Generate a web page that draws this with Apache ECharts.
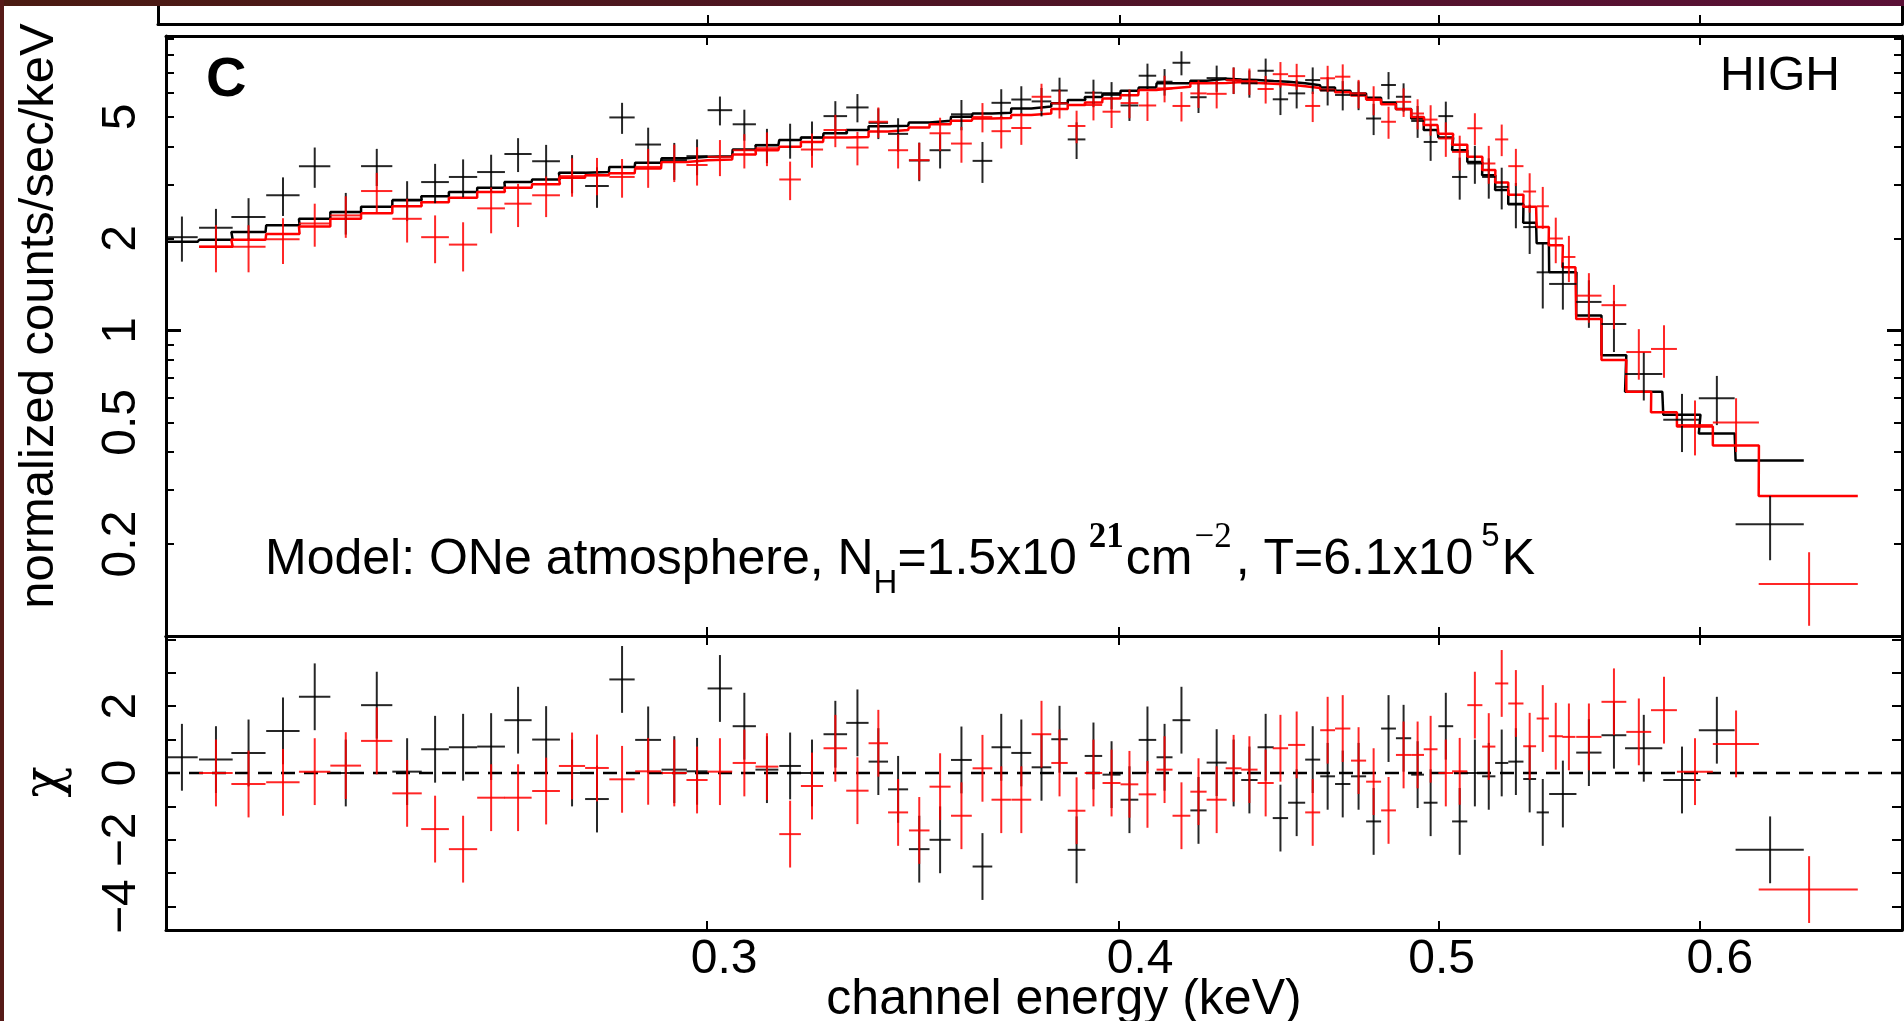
<!DOCTYPE html>
<html>
<head>
<meta charset="utf-8">
<title>ONe atmosphere fit - HIGH</title>
<script src="https://cdn.jsdelivr.net/npm/echarts@6/dist/echarts.min.js"></script>
<style>
  html, body { margin: 0; padding: 0; background: #fff; }
  #chart { width: 1904px; height: 1021px; }
</style>
</head>
<body>
<div id="chart"></div>
<script>
// ---- data (keV, counts/sec/keV, chi) ----
const blackEnergy = [0.2079, 0.2129, 0.2178, 0.2231, 0.2281, 0.2331, 0.2382, 0.2433, 0.2481, 0.2530,
  0.2580, 0.2629, 0.2681, 0.2730, 0.2778, 0.2827, 0.2879, 0.2932, 0.2979, 0.3027,
  0.3079, 0.3128, 0.3179, 0.3228, 0.3281, 0.3332, 0.3381, 0.3428, 0.3479, 0.3530,
  0.3583, 0.3636, 0.3684, 0.3736, 0.3789, 0.3837, 0.3883, 0.3929, 0.3979, 0.4029,
  0.4080, 0.4129, 0.4178, 0.4228, 0.4282, 0.4333, 0.4381, 0.4431, 0.4477, 0.4528,
  0.4579, 0.4627, 0.4676, 0.4728, 0.4778, 0.4828, 0.4879, 0.4927, 0.4972, 0.5025,
  0.5074, 0.5128, 0.5178, 0.5225, 0.5277, 0.5328, 0.5377, 0.5453, 0.5553, 0.5651,
  0.5770, 0.5926, 0.6072, 0.6302];
const blackEnergyErr = [0.0023, 0.0025, 0.0026, 0.0026, 0.0025, 0.0025, 0.0026, 0.0025, 0.0024, 0.0025,
  0.0025, 0.0025, 0.0026, 0.0025, 0.0023, 0.0025, 0.0026, 0.0026, 0.0022, 0.0026,
  0.0025, 0.0025, 0.0024, 0.0025, 0.0027, 0.0026, 0.0023, 0.0024, 0.0025, 0.0026,
  0.0026, 0.0025, 0.0025, 0.0026, 0.0026, 0.0022, 0.0024, 0.0024, 0.0025, 0.0025,
  0.0025, 0.0023, 0.0026, 0.0024, 0.0030, 0.0024, 0.0025, 0.0025, 0.0024, 0.0027,
  0.0024, 0.0024, 0.0025, 0.0025, 0.0025, 0.0025, 0.0026, 0.0022, 0.0024, 0.0026,
  0.0027, 0.0027, 0.0024, 0.0024, 0.0028, 0.0024, 0.0023, 0.0052, 0.0049, 0.0049,
  0.0075, 0.0077, 0.0076, 0.0150];
const blackCounts = [2.02, 2.17, 2.35, 2.77, 3.45, 2.44, 3.45, 2.68, 3.06, 3.18,
  3.30, 3.78, 3.58, 3.28, 2.97, 4.98, 4.06, 3.61, 3.72, 5.26,
  4.73, 4.05, 4.20, 4.28, 5.03, 5.37, 4.78, 4.40, 3.60, 3.89,
  5.10, 3.59, 5.56, 5.70, 5.62, 6.10, 4.22, 6.00, 5.90, 5.45,
  6.82, 6.52, 7.52, 5.80, 6.70, 6.60, 6.44, 7.08, 5.71, 5.97,
  6.60, 6.10, 5.90, 5.90, 4.94, 6.36, 5.82, 4.85, 4.14, 5.03,
  3.18, 3.52, 3.18, 2.95, 2.60, 2.18, 1.55, 1.42, 1.24, 1.05,
  0.72, 0.51, 0.60, 0.232];
const blackCountsErr = [0.34, 0.33, 0.36, 0.40, 0.52, 0.38, 0.48, 0.40, 0.45, 0.45,
  0.46, 0.48, 0.47, 0.47, 0.45, 0.58, 0.55, 0.50, 0.50, 0.57,
  0.55, 0.52, 0.55, 0.55, 0.60, 0.57, 0.55, 0.55, 0.52, 0.50,
  0.58, 0.55, 0.60, 0.60, 0.60, 0.62, 0.58, 0.62, 0.60, 0.60,
  0.65, 0.65, 0.68, 0.65, 0.66, 0.66, 0.66, 0.68, 0.64, 0.64,
  0.66, 0.65, 0.65, 0.64, 0.58, 0.65, 0.62, 0.58, 0.55, 0.58,
  0.50, 0.50, 0.48, 0.46, 0.44, 0.40, 0.37, 0.25, 0.22, 0.20,
  0.13, 0.11, 0.11, 0.055];
const blackModel = [1.95, 1.98, 2.10, 2.21, 2.32, 2.44, 2.54, 2.67, 2.75, 2.84,
  2.93, 3.06, 3.12, 3.28, 3.30, 3.43, 3.54, 3.66, 3.70, 3.72,
  3.91, 4.04, 4.20, 4.28, 4.42, 4.53, 4.66, 4.68, 4.79, 4.86,
  5.01, 5.13, 5.16, 5.33, 5.41, 5.54, 5.68, 5.81, 5.96, 6.09,
  6.24, 6.44, 6.44, 6.57, 6.66, 6.63, 6.60, 6.55, 6.52, 6.44,
  6.35, 6.24, 6.09, 5.96, 5.78, 5.57, 5.31, 4.94, 4.53, 4.28,
  3.89, 3.56, 3.22, 2.88, 2.59, 2.25, 1.93, 1.55, 1.12, 0.83,
  0.63, 0.53, 0.46, 0.375];
const blackChi = [0.47, 0.40, 0.60, 1.26, 2.28, 0.00, 2.03, 0.04, 0.71, 0.77,
  0.79, 1.58, 1.00, 0.00, -0.78, 2.80, 0.99, 0.10, 0.05, 2.53,
  1.40, 0.10, 0.21, 0.00, 1.16, 1.50, 0.34, -0.49, -2.28, -2.00,
  0.39, -2.80, 0.77, 0.60, 0.17, 1.01, -2.30, 0.51, -0.05, -0.80,
  0.99, 0.47, 1.58, -1.12, 0.31, 0.00, -0.21, 0.77, -1.35, -0.89,
  0.40, -0.10, -0.33, -0.10, -1.45, 1.33, 1.04, -0.05, -0.89, 1.40,
  -1.45, 0.00, -0.10, 0.30, 0.34, -0.18, -1.18, -0.63, 0.61, 1.13,
  0.74, -0.21, 1.28, -2.30];

const redEnergy = [0.2129, 0.2178, 0.2231, 0.2281, 0.2331, 0.2382, 0.2433, 0.2481, 0.2530, 0.2580,
  0.2629, 0.2681, 0.2730, 0.2778, 0.2827, 0.2879, 0.2932, 0.2979, 0.3027, 0.3079,
  0.3128, 0.3179, 0.3228, 0.3281, 0.3332, 0.3381, 0.3428, 0.3479, 0.3530, 0.3583,
  0.3636, 0.3684, 0.3736, 0.3789, 0.3837, 0.3883, 0.3929, 0.3979, 0.4029, 0.4080,
  0.4129, 0.4178, 0.4228, 0.4282, 0.4333, 0.4381, 0.4431, 0.4477, 0.4528, 0.4579,
  0.4627, 0.4676, 0.4728, 0.4778, 0.4828, 0.4879, 0.4927, 0.4972, 0.5025, 0.5074,
  0.5128, 0.5178, 0.5225, 0.5277, 0.5328, 0.5377, 0.5426, 0.5476, 0.5553, 0.5651,
  0.5750, 0.5852, 0.5980, 0.6154, 0.6476];
const redEnergyErr = [0.0025, 0.0026, 0.0026, 0.0025, 0.0025, 0.0026, 0.0025, 0.0024, 0.0025, 0.0025,
  0.0025, 0.0026, 0.0025, 0.0023, 0.0025, 0.0026, 0.0026, 0.0022, 0.0026, 0.0025,
  0.0025, 0.0024, 0.0025, 0.0027, 0.0026, 0.0023, 0.0024, 0.0025, 0.0026, 0.0026,
  0.0025, 0.0025, 0.0026, 0.0026, 0.0022, 0.0024, 0.0024, 0.0025, 0.0025, 0.0025,
  0.0023, 0.0026, 0.0024, 0.0030, 0.0024, 0.0025, 0.0025, 0.0024, 0.0027, 0.0024,
  0.0024, 0.0025, 0.0025, 0.0025, 0.0025, 0.0026, 0.0022, 0.0024, 0.0026, 0.0027,
  0.0027, 0.0024, 0.0024, 0.0028, 0.0024, 0.0023, 0.0027, 0.0025, 0.0049, 0.0049,
  0.0050, 0.0053, 0.0075, 0.0099, 0.0224];
const redCounts = [1.88, 1.88, 1.99, 2.24, 2.38, 2.86, 2.32, 2.02, 1.91, 2.51,
  2.60, 2.77, 3.20, 3.22, 3.18, 3.43, 3.56, 3.48, 3.70, 3.89,
  3.95, 3.12, 3.91, 4.53, 3.97, 4.82, 3.89, 3.61, 4.42, 4.09,
  5.00, 4.49, 4.60, 5.82, 5.54, 4.67, 5.47, 5.20, 5.55, 5.45,
  6.20, 5.43, 5.97, 5.95, 6.60, 6.55, 6.17, 6.90, 6.80, 5.43,
  6.69, 6.77, 5.97, 5.68, 4.82, 5.60, 5.13, 4.90, 4.25, 3.84,
  4.59, 3.52, 4.22, 3.45, 2.85, 2.55, 2.00, 1.74, 1.30, 1.21,
  0.85, 0.87, 0.49, 0.50, 0.148];
const redCountsErr = [0.33, 0.33, 0.34, 0.36, 0.37, 0.42, 0.38, 0.36, 0.35, 0.43,
  0.42, 0.42, 0.46, 0.45, 0.46, 0.50, 0.50, 0.50, 0.50, 0.50,
  0.50, 0.45, 0.50, 0.55, 0.50, 0.55, 0.50, 0.50, 0.55, 0.55,
  0.55, 0.55, 0.55, 0.60, 0.60, 0.57, 0.60, 0.60, 0.60, 0.60,
  0.62, 0.60, 0.62, 0.62, 0.65, 0.65, 0.64, 0.66, 0.66, 0.62,
  0.66, 0.66, 0.64, 0.62, 0.58, 0.60, 0.58, 0.56, 0.55, 0.50,
  0.55, 0.50, 0.50, 0.48, 0.42, 0.40, 0.34, 0.30, 0.24, 0.20,
  0.16, 0.17, 0.10, 0.10, 0.04];
const redModel = [1.88, 1.98, 2.07, 2.19, 2.32, 2.42, 2.55, 2.63, 2.72, 2.84,
  2.93, 3.01, 3.16, 3.22, 3.27, 3.39, 3.56, 3.61, 3.63, 3.77,
  3.89, 3.99, 4.14, 4.28, 4.30, 4.48, 4.53, 4.62, 4.73, 4.86,
  4.94, 4.96, 5.07, 5.13, 5.31, 5.47, 5.57, 5.74, 5.89, 6.12,
  6.20, 6.28, 6.44, 6.46, 6.50, 6.45, 6.42, 6.38, 6.30, 6.22,
  6.12, 6.02, 5.88, 5.70, 5.50, 5.30, 5.00, 4.70, 4.40, 4.05,
  3.70, 3.35, 3.05, 2.78, 2.54, 2.18, 1.90, 1.61, 1.09, 0.80,
  0.63, 0.54, 0.485, 0.42, 0.287];
const redChi = [0.00, -0.33, -0.28, 0.04, 0.22, 0.96, -0.61, -1.68, -2.28, -0.74,
  -0.74, -0.54, 0.21, 0.15, -0.19, 0.05, 0.00, -0.21, 0.04, 0.30,
  0.19, -1.83, -0.39, 0.74, -0.53, 0.89, -1.18, -1.72, -0.41, -1.28,
  0.14, -0.80, -0.80, 1.16, 0.30, -1.13, 0.00, -0.30, -0.34, -0.64,
  0.10, -1.28, -0.56, -0.80, 0.14, 0.10, -0.30, 0.74, 0.84, -1.18,
  1.28, 1.33, 0.37, -0.26, -1.12, 0.54, 0.54, 0.71, 0.00, 0.05,
  2.03, 0.79, 2.68, 2.08, 0.80, 1.63, 1.10, 1.08, 1.08, 2.13,
  1.23, 1.88, 0.04, 0.87, -3.49];
const chiErr = 1;

const energyTicks = [0.3, 0.4, 0.5, 0.6];
const countTicks = [0.2, 0.3, 0.4, 0.5, 0.6, 0.7, 0.8, 0.9, 2, 3, 4, 5, 6, 7, 8, 9];
const countMajorTicks = [0.1, 1];
const countLabels = [0.2, 0.5, 1, 2, 5];
const chiTicks = [-4, -3, -2, -1, 0, 1, 2, 3, 4];
const chiLabels = [-4, -2, 0, 2];

// axis ranges
const E_MIN = 0.2056, E_MAX = 0.691, E_MIN_UPPER = 0.2044;
const COUNT_MIN = 0.1, COUNT_MAX = 9.2;
const CHI_MIN = -4.7, CHI_MAX = 4.1;

const FONT = '"Liberation Sans", Arial, Helvetica, sans-serif';
const RED = '#ff0000';

const chart = echarts.init(document.getElementById('chart'), null, { renderer: 'canvas' });

// step outline of a binned model
function steps(energy, width, model) {
  const pts = [];
  energy.forEach((e, i) => {
    pts.push([e - width[i], model[i]], [e + width[i], model[i]]);
  });
  return pts;
}

// data cross: horizontal bar = channel width, vertical bar = error
function crossItem(color, lineWidth, fixedErr) {
  return function (params, api) {
    const x = api.value(0), y = api.value(1), dx = api.value(2);
    const dy = fixedErr != null ? fixedErr : api.value(3);
    const l = api.coord([x - dx, y]);
    const r = api.coord([x + dx, y]);
    const t = api.coord([x, y + dy]);
    const b = api.coord([x, y - dy]);
    return {
      type: 'group',
      children: [
        { type: 'line', shape: { x1: l[0], y1: l[1], x2: r[0], y2: r[1] }, style: { stroke: color, lineWidth: lineWidth } },
        { type: 'line', shape: { x1: t[0], y1: t[1], x2: b[0], y2: b[1] }, style: { stroke: color, lineWidth: lineWidth } }
      ]
    };
  };
}

// the printed tick labels sit a little right of their ticks
const energyLabelStyle = {
  e3: { fontSize: 48, fontFamily: FONT, color: '#000', padding: [0, 0, 0, 34] },
  e4: { fontSize: 48, fontFamily: FONT, color: '#000', padding: [0, 0, 0, 42] },
  e5: { fontSize: 48, fontFamily: FONT, color: '#000', padding: [0, 0, 0, 6] },
  e6: { fontSize: 48, fontFamily: FONT, color: '#000', padding: [0, 0, 0, 40] }
};

function energyAxis(gridIndex, position, min, showLabels) {
  return {
    type: 'log', logBase: 10, gridIndex: gridIndex, position: position, min: min, max: E_MAX,
    axisLine: { show: true, onZero: false, lineStyle: { color: '#000', width: 3 } },
    axisTick: { show: true, inside: true, length: 9, customValues: energyTicks, lineStyle: { color: '#000', width: 2 } },
    axisLabel: showLabels ? {
      show: true, customValues: energyTicks, margin: 6, color: '#000',
      fontSize: 48, fontFamily: FONT, rich: energyLabelStyle,
      formatter: v => {
        const s = Number(v).toFixed(1);
        return '{e' + s.slice(-1) + '|' + s + '}';
      }
    } : { show: false },
    splitLine: { show: false }, minorTick: { show: false }
  };
}

function countAxis(position, ticks, tickLen, tickWidth, showLine, showLabels) {
  return {
    type: 'log', logBase: 10, gridIndex: 0, position: position, min: COUNT_MIN, max: COUNT_MAX,
    axisLine: { show: showLine, onZero: false, lineStyle: { color: '#000', width: 3 } },
    axisTick: { show: true, inside: true, length: tickLen, customValues: ticks, lineStyle: { color: '#000', width: tickWidth } },
    axisLabel: showLabels ? {
      show: true, customValues: countLabels, rotate: 90, margin: 20, color: '#000',
      fontSize: 48, fontFamily: FONT, formatter: v => String(Number(v))
    } : { show: false },
    splitLine: { show: false }, minorTick: { show: false }
  };
}

function chiAxis(position, showLabels) {
  return {
    type: 'value', gridIndex: 1, position: position, min: CHI_MIN, max: CHI_MAX,
    axisLine: { show: true, onZero: false, lineStyle: { color: '#000', width: 3 } },
    axisTick: { show: true, inside: true, length: 10, customValues: chiTicks, lineStyle: { color: '#000', width: 2 } },
    axisLabel: showLabels ? {
      show: true, customValues: chiLabels, rotate: 90, margin: 20, color: '#000',
      fontSize: 48, fontFamily: FONT, formatter: v => (v < 0 ? '\u2212' + Math.abs(v) : String(v))
    } : { show: false },
    splitLine: { show: false }
  };
}

function frameAxis(position) {
  return {
    type: 'value', gridIndex: 2, position: position, min: 0, max: 1,
    axisLine: { show: true, onZero: false, lineStyle: { color: '#000', width: 3 } },
    axisTick: { show: false }, axisLabel: { show: false }, splitLine: { show: false }
  };
}

const option = {
  backgroundColor: '#ffffff',
  animation: false,
  grid: [
    { left: 166, top: 36, width: 1736, height: 600, outerBoundsMode: 'none' },
    { left: 166, top: 636, width: 1736, height: 294, outerBoundsMode: 'none' },
    { left: 158, top: -40, width: 1744, height: 64, outerBoundsMode: 'none' }
  ],
  xAxis: [
    energyAxis(0, 'bottom', E_MIN, false),
    energyAxis(0, 'top', E_MIN, false),
    energyAxis(1, 'bottom', E_MIN, true),
    energyAxis(1, 'top', E_MIN, false),
    energyAxis(2, 'bottom', E_MIN_UPPER, false)
  ],
  yAxis: [
    countAxis('left', countTicks, 8, 2, true, true),
    countAxis('right', countTicks, 8, 2, true, false),
    countAxis('left', countMajorTicks, 15, 3, false, false),
    countAxis('right', countMajorTicks, 15, 3, false, false),
    chiAxis('left', true),
    chiAxis('right', false),
    frameAxis('left'),
    frameAxis('right')
  ],
  series: [
    {
      name: 'model black', type: 'line', xAxisIndex: 0, yAxisIndex: 0,
      data: steps(blackEnergy, blackEnergyErr, blackModel),
      symbol: 'none', lineStyle: { color: '#000', width: 2.5 }, z: 2
    },
    {
      name: 'model red', type: 'line', xAxisIndex: 0, yAxisIndex: 0,
      data: steps(redEnergy, redEnergyErr, redModel),
      symbol: 'none', lineStyle: { color: RED, width: 2.5 }, z: 2
    },
    {
      name: 'data black', type: 'custom', xAxisIndex: 0, yAxisIndex: 0, clip: true,
      data: blackEnergy.map((e, i) => [e, blackCounts[i], blackEnergyErr[i], blackCountsErr[i]]),
      encode: { x: 0, y: 1 }, renderItem: crossItem('rgba(0,0,0,0.85)', 2), z: 3
    },
    {
      name: 'data red', type: 'custom', xAxisIndex: 0, yAxisIndex: 0, clip: true,
      data: redEnergy.map((e, i) => [e, redCounts[i], redEnergyErr[i], redCountsErr[i]]),
      encode: { x: 0, y: 1 }, renderItem: crossItem('rgba(255,0,0,0.85)', 2), z: 3
    },
    {
      name: 'zero', type: 'line', xAxisIndex: 2, yAxisIndex: 4,
      data: [[E_MIN, 0], [E_MAX, 0]], symbol: 'none',
      lineStyle: { color: '#000', width: 2.5, type: [14, 9] }, z: 2
    },
    {
      name: 'chi black', type: 'custom', xAxisIndex: 2, yAxisIndex: 4, clip: true,
      data: blackEnergy.map((e, i) => [e, blackChi[i], blackEnergyErr[i]]),
      encode: { x: 0, y: 1 }, renderItem: crossItem('rgba(0,0,0,0.85)', 2, chiErr), z: 3
    },
    {
      name: 'chi red', type: 'custom', xAxisIndex: 2, yAxisIndex: 4, clip: true,
      data: redEnergy.map((e, i) => [e, redChi[i], redEnergyErr[i]]),
      encode: { x: 0, y: 1 }, renderItem: crossItem('rgba(255,0,0,0.85)', 2, chiErr), z: 3
    }
  ],
  graphic: [
    {
      type: 'rect', z: 100, shape: { x: 0, y: 0, width: 1904, height: 6 },
      style: { fill: new echarts.graphic.LinearGradient(0, 0, 1, 0, [
        { offset: 0, color: '#4b1b12' }, { offset: 0.5, color: '#4e1424' }, { offset: 1, color: '#5a1036' }
      ]) }
    },
    { type: 'rect', z: 100, shape: { x: 0, y: 0, width: 4, height: 1021 }, style: { fill: '#561a18' } },
    {
      type: 'text', x: 39, y: 316, rotation: Math.PI / 2,
      style: { text: 'normalized counts/sec/keV', fontSize: 49, fontFamily: FONT, fill: '#000', align: 'center', verticalAlign: 'middle' }
    },
    {
      type: 'text', x: 46, y: 782, rotation: Math.PI / 2,
      style: { text: '\u03c7', fontSize: 52, fontFamily: '"DejaVu Serif", serif', fill: '#000', align: 'center', verticalAlign: 'middle' }
    },
    {
      type: 'text', x: 1064, y: 1000,
      style: { text: 'channel energy (keV)', fontSize: 50, fontFamily: FONT, fill: '#000', align: 'center', verticalAlign: 'middle' }
    },
    {
      type: 'text', x: 206, y: 81,
      style: { text: 'C', fontSize: 56, fontWeight: 'bold', fontFamily: FONT, fill: '#000', align: 'left', verticalAlign: 'middle' }
    },
    {
      type: 'text', x: 1720, y: 77,
      style: { text: 'HIGH', fontSize: 48, fontFamily: FONT, fill: '#000', align: 'left', verticalAlign: 'middle' }
    },
    {
      type: 'text', x: 265, y: 520,
      style: {
        text: '{n|Model: ONe atmosphere, N}{sub|H}{n|=1.5x10}{b|21}{n|cm}{s|\u22122}{n|, T=6.1x10}{s5|5}{n|K}',
        align: 'left', verticalAlign: 'top', fill: '#000',
        rich: {
          n: { fontSize: 50, fontFamily: FONT, lineHeight: 80, verticalAlign: 'middle', fill: '#000' },
          sub: { fontSize: 33, fontFamily: FONT, lineHeight: 44, verticalAlign: 'bottom', fill: '#000' },
          b: { fontSize: 35, fontWeight: 'bold', fontFamily: '"Liberation Serif", serif', lineHeight: 70, verticalAlign: 'top', padding: [0, 2, 0, 12], fill: '#000' },
          s: { fontSize: 35, fontFamily: '"Liberation Serif", serif', lineHeight: 70, verticalAlign: 'top', padding: [0, 4, 0, 2], fill: '#000' },
          s5: { fontSize: 33, fontFamily: FONT, lineHeight: 70, verticalAlign: 'top', padding: [0, 2, 0, 8], fill: '#000' }
        }
      }
    }
  ]
};

chart.setOption(option);
window.addEventListener('resize', () => chart.resize());
</script>
</body>
</html>
